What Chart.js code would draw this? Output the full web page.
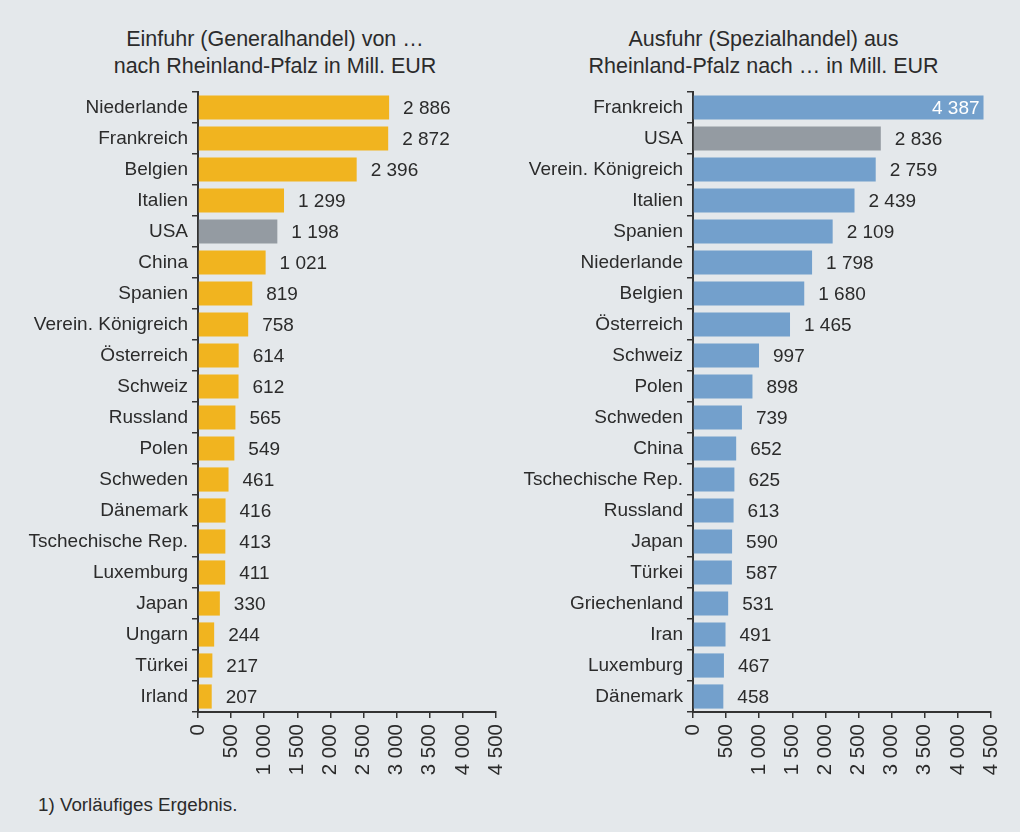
<!DOCTYPE html>
<html lang="de">
<head>
<meta charset="utf-8">
<title>Einfuhr und Ausfuhr Rheinland-Pfalz</title>
<script src="https://cdn.jsdelivr.net/npm/chart.js@4/dist/chart.umd.min.js"></script>
<style>
    html, body { margin: 0; padding: 0; }
    body {
        width: 1020px; height: 832px; background: #e4e8eb;
        font-family: "Liberation Sans", Arial, sans-serif; color: #2b2b2b;
        position: relative; overflow: hidden;
    }
    .title {
        position: absolute; top: 26px; font-size: 21.5px; line-height: 27px;
        text-align: center; color: #2b2b2b;
    }
    #titleLeft { left: 30px; width: 490px; }
    #titleRight { left: 516px; width: 495px; }
    .box { position: absolute; top: 89px; height: 699px; }
    #boxLeft { left: 0; width: 510px; }
    #boxRight { left: 510px; width: 505px; }
    .note { position: absolute; left: 38px; top: 794px; font-size: 18.8px; color: #2b2b2b; }
</style>
</head>
<body>
<div class="title" id="titleLeft">Einfuhr (Generalhandel) von …<br>nach Rheinland-Pfalz in Mill. EUR</div>
<div class="title" id="titleRight">Ausfuhr (Spezialhandel) aus<br>Rheinland-Pfalz nach … in Mill. EUR</div>
<div class="box" id="boxLeft"><canvas id="importChart"></canvas></div>
<div class="box" id="boxRight"><canvas id="exportChart"></canvas></div>
<div class="note">1) Vorläufiges Ergebnis.</div>

<script>
// Einfuhr
const importCountries = ['Niederlande', 'Frankreich', 'Belgien', 'Italien', 'USA', 'China', 'Spanien',
    'Verein. Königreich', 'Österreich', 'Schweiz', 'Russland', 'Polen', 'Schweden', 'Dänemark',
    'Tschechische Rep.', 'Luxemburg', 'Japan', 'Ungarn', 'Türkei', 'Irland'];
const importValues = [2886, 2872, 2396, 1299, 1198, 1021, 819, 758, 614, 612, 565, 549, 461, 416, 413, 411, 330, 244, 217, 207];

// Ausfuhr
const exportCountries = ['Frankreich', 'USA', 'Verein. Königreich', 'Italien', 'Spanien', 'Niederlande',
    'Belgien', 'Österreich', 'Schweiz', 'Polen', 'Schweden', 'China', 'Tschechische Rep.', 'Russland',
    'Japan', 'Türkei', 'Griechenland', 'Iran', 'Luxemburg', 'Dänemark'];
const exportValues = [4387, 2836, 2759, 2439, 2109, 1798, 1680, 1465, 997, 898, 739, 652, 625, 613, 590, 587, 531, 491, 467, 458];

const axisTicks = [0, 500, 1000, 1500, 2000, 2500, 3000, 3500, 4000, 4500];

const FONT = '"Liberation Sans", Arial, sans-serif';
const TEXT = '#2b2b2b';
const GREY = '#949ba2';

function fmt(v) {
    return String(v).replace(/\B(?=(\d{3})+(?!\d))/g, ' ');
}

// values next to the bar, or inside in white when there is no room
const valueLabels = {
    id: 'valueLabels',
    afterDatasetsDraw(chart) {
        const ctx = chart.ctx;
        const meta = chart.getDatasetMeta(0);
        const data = chart.data.datasets[0].data;
        ctx.save();
        ctx.font = '19px ' + FONT;
        ctx.textBaseline = 'middle';
        meta.data.forEach((bar, i) => {
            const txt = fmt(data[i]);
            const w = ctx.measureText(txt).width;
            if (bar.x + 14 + w > chart.chartArea.right) {
                ctx.fillStyle = '#ffffff';
                ctx.textAlign = 'right';
                ctx.fillText(txt, bar.x - 4, bar.y + 1);
            } else {
                ctx.fillStyle = TEXT;
                ctx.textAlign = 'left';
                ctx.fillText(txt, bar.x + 14, bar.y + 1);
            }
        });
        ctx.restore();
    }
};

function makeChart(id, labels, values, color, yWidth, padRight) {
    return new Chart(document.getElementById(id), {
        type: 'bar',
        data: {
            labels: labels,
            datasets: [{
                data: values,
                backgroundColor: labels.map(c => c === 'USA' ? GREY : color),
                categoryPercentage: 0.78,
                barPercentage: 1.0
            }]
        },
        options: {
            indexAxis: 'y',
            responsive: true,
            maintainAspectRatio: false,
            animation: false,
            layout: { padding: { top: 3, right: padRight, left: 0, bottom: 0 } },
            plugins: { legend: { display: false }, tooltip: { enabled: false } },
            scales: {
                x: {
                    min: 0,
                    max: 4500,
                    afterBuildTicks: (s) => { s.ticks = axisTicks.map(v => ({ value: v })); },
                    afterFit: (s) => { s.height = 76; s.paddingLeft = 0; s.paddingRight = 0; },
                    border: { display: true, color: '#333', width: 2 },
                    grid: { drawOnChartArea: false, drawTicks: true, tickLength: 6, color: '#333', lineWidth: 1.5 },
                    ticks: {
                        minRotation: 90, maxRotation: 90, padding: 6,
                        color: TEXT, font: { family: FONT, size: 20.5 },
                        callback: (v) => fmt(v)
                    }
                },
                y: {
                    afterFit: (s) => { s.width = yWidth; s.paddingTop = 0; s.paddingBottom = 0; },
                    border: { display: true, color: '#333', width: 2 },
                    grid: { offset: true, drawOnChartArea: false, drawTicks: true, tickLength: 6, color: '#333', lineWidth: 1.5 },
                    ticks: { padding: 4, color: TEXT, font: { family: FONT, size: 19 } }
                }
            }
        },
        plugins: [valueLabels]
    });
}

makeChart('importChart', importCountries, importValues, '#f1b41f', 198, 14);
makeChart('exportChart', exportCountries, exportValues, '#73a0cc', 183, 24);
</script>
</body>
</html>
